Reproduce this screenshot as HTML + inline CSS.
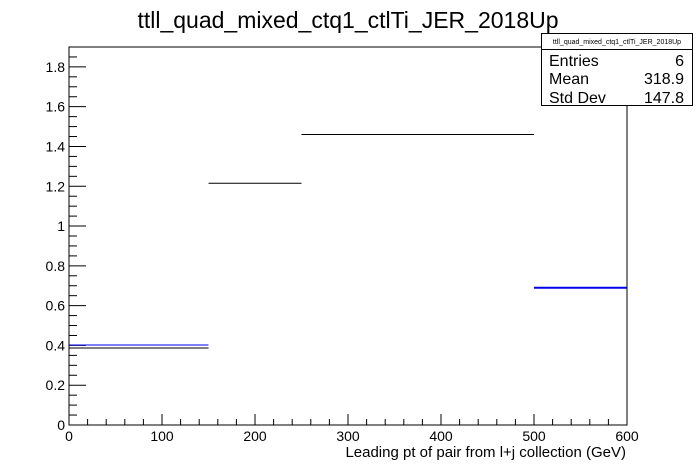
<!DOCTYPE html>
<html><head><meta charset="utf-8"><style>body{margin:0;background:#fff}svg{display:block;font-family:"Liberation Sans",Arial,sans-serif}</style></head>
<body>
<svg id="c" width="696" height="472">
<text x="348" y="28" text-anchor="middle" font-size="23">ttll_quad_mixed_ctq1_ctlTi_JER_2018Up</text>
<rect x="69" y="47" width="558" height="378" fill="none" stroke="#000"/>
<g id="axes"></g><g id="marks"></g>
<text x="626" y="457" text-anchor="end" font-size="15">Leading pt of pair from l+j collection (GeV)</text>
<g>
<rect x="541.5" y="33.5" width="151" height="72" fill="#fff" stroke="#000"/>
<line x1="541.5" y1="49.5" x2="692.5" y2="49.5" stroke="#000"/>
<text x="617" y="44" text-anchor="middle" font-size="7">ttll_quad_mixed_ctq1_ctlTi_JER_2018Up</text>
<text x="549" y="66" font-size="16">Entries</text><text x="684" y="66" text-anchor="end" font-size="16">6</text>
<text x="549" y="84" font-size="16">Mean</text><text x="684" y="84" text-anchor="end" font-size="16">318.9</text>
<text x="549" y="103" font-size="16">Std Dev</text><text x="684" y="103" text-anchor="end" font-size="16">147.8</text>
</g>
</svg>
<script>
const blackEdges=[0,150,250,500];
const blackValues=[0.387,1.215,1.46];
const blueLow=[0,500];
const blueHigh=[150,600];
const blueValues=[0.402,0.69];
const blueWidths=[1,2];
const xTicks=[0,100,200,300,400,500,600];
const yTicks=[0,0.2,0.4,0.6,0.8,1,1.2,1.4,1.6,1.8];
const X0=69,X1=627,Y0=425,Y1=47,XMAX=600,YMAX=1.9;
const sx=v=>X0+v/XMAX*(X1-X0), sy=v=>Y0-v/YMAX*(Y0-Y1);
const NS="http://www.w3.org/2000/svg";
const ax=document.getElementById('axes'),mk=document.getElementById('marks');
function ln(p,x1,y1,x2,y2,c,w){const l=document.createElementNS(NS,'line');l.setAttribute('x1',x1);l.setAttribute('y1',y1);l.setAttribute('x2',x2);l.setAttribute('y2',y2);l.setAttribute('stroke',c);l.setAttribute('stroke-width',w);p.appendChild(l);return l;}
function tx(x,y,s,a){const t=document.createElementNS(NS,'text');t.setAttribute('x',x);t.setAttribute('y',y);t.setAttribute('text-anchor',a);t.setAttribute('font-size','14');t.textContent=s;ax.appendChild(t);return t;}
for(let v=0;v<=XMAX+0.01;v+=20){const maj=Math.abs(v/100-Math.round(v/100))<1e-6;const t=ln(ax,sx(v),Y0,sx(v),Y0-(maj?11:6),'#000',1);

}
for(let v=0;v<=YMAX+0.001;v+=0.05){const maj=Math.abs(v/0.2-Math.round(v/0.2))<1e-6;const t=ln(ax,X0,sy(v),X0+(maj?17:8),sy(v),'#000',1);

}
xTicks.forEach(v=>{const t=tx(sx(v),441,String(v),'middle');

});
yTicks.forEach(v=>{const t=tx(X0-4,sy(v)+5,String(v),'end');

});
blackValues.forEach((v,i)=>{const l=ln(mk,sx(blackEdges[i]),sy(v),sx(blackEdges[i+1]),sy(v),'#000',1);

});
blueValues.forEach((v,i)=>{const l=ln(mk,sx(blueLow[i]),sy(v),sx(blueHigh[i]),sy(v),'#0000ee',blueWidths[i]);

});
</script>
</body></html>
